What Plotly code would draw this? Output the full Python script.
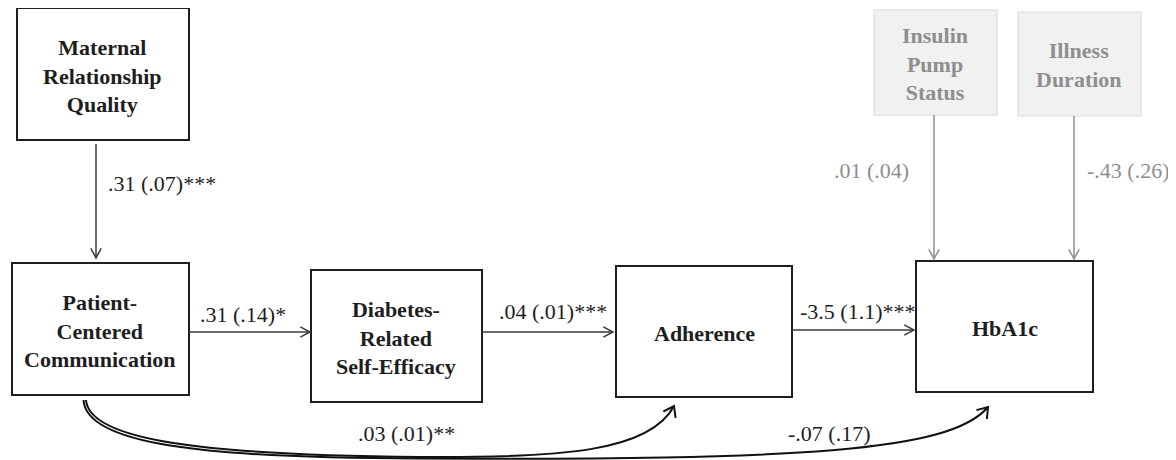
import math
import plotly.graph_objects as go

# ---------------- data ----------------
node_names = ["Maternal<br>Relationship<br>Quality",
              "Patient-<br>Centered<br>Communication",
              "Diabetes-<br>Related<br>Self-Efficacy",
              "Adherence",
              "HbA1c"]
control_names = ["Insulin<br>Pump<br>Status", "Illness<br>Duration"]
direct_paths = [".31 (.07)***", ".31 (.14)*", ".04 (.01)***", "-3.5 (1.1)***"]
control_paths = [".01 (.04)", "-.43 (.26)"]
indirect_paths = [".03 (.01)**", "-.07 (.17)"]

# ---------------- layout geometry (pixels) ----------------
W, H = 1176, 460
OFF = 8  # page body margin compensation
FONT = "Liberation Serif, Times New Roman, DejaVu Serif, serif"
DARK = "#1e1e1e"
LINE = "#3a3a3a"
GRAY = "#8e8e8e"
FS = 22

node_boxes = [(17, 8, 189, 140), (12, 263, 189, 395), (311, 270, 482, 402),
              (616, 266, 792, 397), (916, 261, 1093, 392)]
node_text_pos = [(102, 76), (100, 331), (396, 338), (704, 333), (1005, 328)]
control_boxes = [(874, 10, 997, 115), (1018, 12, 1141, 116)]
control_text_pos = [(935, 64), (1079, 65)]

fig = go.Figure()
fig.add_trace(go.Scatter(x=[0, W], y=[0, H], mode="markers",
                         marker=dict(opacity=0), hoverinfo="skip", showlegend=False))

def vhead(tip, d, color, L=11, ang=28, width=1.5):
    dx, dy = d
    n = math.hypot(dx, dy)
    dx, dy = dx / n, dy / n
    pts = []
    for s in (1, -1):
        a = math.radians(ang) * s
        rx = dx * math.cos(a) - dy * math.sin(a)
        ry = dx * math.sin(a) + dy * math.cos(a)
        pts.append((tip[0] - L * rx, tip[1] - L * ry))
    path = f"M {pts[0][0]:.1f},{pts[0][1]:.1f} L {tip[0]:.1f},{tip[1]:.1f} L {pts[1][0]:.1f},{pts[1][1]:.1f}"
    fig.add_shape(type="path", path=path, line=dict(color=color, width=width))

def arrow(p0, p1, color=LINE, width=1.5):
    fig.add_shape(type="line", x0=p0[0], y0=p0[1], x1=p1[0], y1=p1[1],
                  line=dict(color=color, width=width))
    vhead(p1, (p1[0] - p0[0], p1[1] - p0[1]), color, width=width)

# boxes
for (x0, y0, x1, y1), name, (tx, ty) in zip(node_boxes, node_names, node_text_pos):
    fig.add_shape(type="rect", x0=x0, y0=y0, x1=x1, y1=y1,
                  line=dict(color=DARK, width=2), fillcolor="white")
    fig.add_annotation(x=tx, y=ty, text=f"<b>{name}</b>", showarrow=False,
                       font=dict(family=FONT, size=FS, color=DARK), align="center")
for (x0, y0, x1, y1), name, (tx, ty) in zip(control_boxes, control_names, control_text_pos):
    fig.add_shape(type="rect", x0=x0, y0=y0, x1=x1, y1=y1,
                  line=dict(color="#e4e4e4", width=1.5), fillcolor="#f1f1f1")
    fig.add_annotation(x=tx, y=ty, text=f"<b>{name}</b>", showarrow=False,
                       font=dict(family=FONT, size=FS, color=GRAY), align="center")

# direct arrows
direct_arrows = [((96, 144), (96, 258)), ((189, 332), (310, 332)),
                 ((482, 332), (613, 332)), ((792, 330), (914, 330))]
direct_label_pos = [(106, 183, "left"), (243, 314, "center"),
                    (553, 311, "center"), (857, 311, "center")]
for (p0, p1), lab, (lx, ly, anc) in zip(direct_arrows, direct_paths, direct_label_pos):
    arrow(p0, p1)
    fig.add_annotation(x=lx, y=ly, text=lab, showarrow=False, xanchor=anc,
                       font=dict(family=FONT, size=FS, color=DARK))

# control arrows
control_arrows = [((934, 115), (934, 259)), ((1074, 116), (1074, 259))]
control_label_pos = [(911, 170, "right"), (1085, 170, "left")]
for (p0, p1), lab, (lx, ly, anc) in zip(control_arrows, control_paths, control_label_pos):
    arrow(p0, p1, color=GRAY)
    fig.add_annotation(x=lx, y=ly, text=lab, showarrow=False, xanchor=anc,
                       font=dict(family=FONT, size=FS, color=GRAY))

# indirect curved arrows
curves = [
    ((86, 400), (89, 440), (200, 455), (420, 457), (560, 458), (650, 452), (674, 406)),
    ((83.5, 400), (86, 444), (200, 458), (420, 458.5), (800, 460), (950, 452), (988, 407)),
]
curve_label_pos = [(406, 433), (829, 433)]
for c, lab, (lx, ly) in zip(curves, indirect_paths, curve_label_pos):
    path = f"M {c[0][0]},{c[0][1]} C {c[1][0]},{c[1][1]} {c[2][0]},{c[2][1]} {c[3][0]},{c[3][1]} " \
           f"C {c[4][0]},{c[4][1]} {c[5][0]},{c[5][1]} {c[6][0]},{c[6][1]}"
    fig.add_shape(type="path", path=path, line=dict(color="#111111", width=2))
    vhead(c[6], (c[6][0] - c[5][0], c[6][1] - c[5][1]), "#111111", L=12, ang=35, width=2)
    fig.add_annotation(x=lx, y=ly, text=lab, showarrow=False,
                       font=dict(family=FONT, size=FS, color=DARK))

fig.update_layout(width=W, height=H, margin=dict(l=0, r=0, t=0, b=0),
                  paper_bgcolor="white", plot_bgcolor="white", showlegend=False)
fig.update_xaxes(range=[OFF, W + OFF], visible=False, fixedrange=True)
fig.update_yaxes(range=[H + OFF, OFF], visible=False, fixedrange=True)
fig.write_html("out.html", config={"displayModeBar": False})
